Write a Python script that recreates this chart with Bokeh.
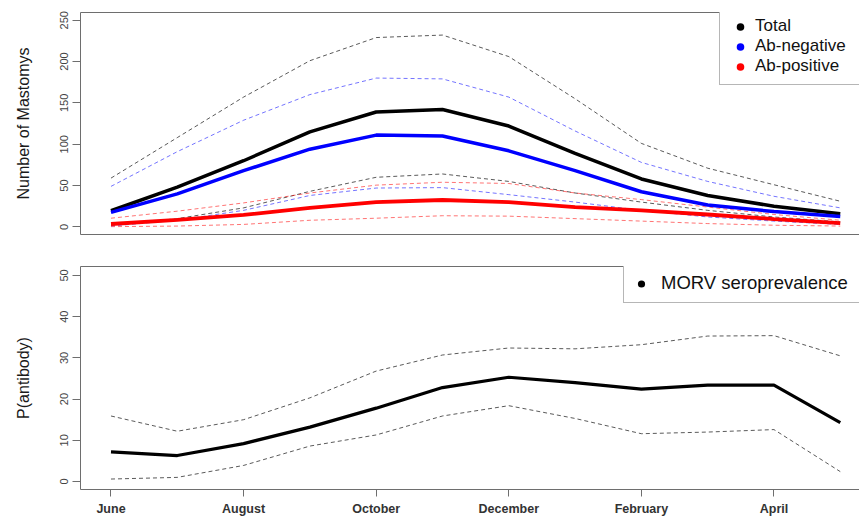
from bokeh.plotting import figure
from bokeh.layouts import column
from bokeh.models import Range1d, FixedTicker, LinearAxis, Legend, LegendItem
from bokeh.embed import file_html
from bokeh.resources import INLINE

# Monthly series, June through May
months = ["June", "July", "August", "September", "October", "November",
          "December", "January", "February", "March", "April", "May"]
month_idx = list(range(len(months)))
tick_positions = [0, 2, 4, 6, 8, 10]
tick_labels = ["June", "August", "October", "December", "February", "April"]

# Number of Mastomys: estimate with lower / upper bounds
total = [19.5, 48, 80, 115, 139, 142, 122, 89, 58, 38, 25, 16]
total_hi = [59, 108, 157, 201, 229, 232, 206, 155, 101, 71, 51, 31]
total_lo = [2, 10, 23, 43, 60, 64, 55, 41, 30, 20, 12, 6]

ab_neg = [17.5, 40, 68, 94, 111, 110, 92, 68, 42.5, 26.5, 18.5, 12.5]
ab_neg_hi = [49, 91, 129, 160, 180, 179, 157, 116, 78, 55, 37, 23]
ab_neg_lo = [1, 8, 20, 38, 47, 47.5, 39, 30, 20, 12, 7, 3]

ab_pos = [3.5, 8.5, 14.5, 23, 30, 32.5, 30, 24, 20, 15, 9.5, 4.5]
ab_pos_hi = [10.5, 19, 29, 41, 50.5, 54, 52.5, 41, 33, 24, 15, 8]
ab_pos_lo = [0.3, 1, 3, 8, 10.5, 13.5, 13, 10, 7, 4, 2, 1]

# Seroprevalence (%) with lower / upper bounds
sero = [7.2, 6.3, 9.2, 13.2, 17.8, 22.8, 25.3, 24.0, 22.4, 23.4, 23.4, 14.3]
sero_hi = [15.9, 12.2, 15.0, 20.3, 26.8, 30.7, 32.4, 32.2, 33.2, 35.3, 35.4, 30.5]
sero_lo = [0.6, 1.0, 3.9, 8.6, 11.3, 15.9, 18.4, 15.3, 11.6, 12.0, 12.6, 2.4]

FONT = "Liberation Sans"
FRAME = "#6e6e6e"
LABEL = "#444444"
X_START, X_END = -0.46, 11.29


def bare_axis(p, side):
    ax = LinearAxis(ticker=FixedTicker(ticks=[]), axis_line_color=FRAME,
                    axis_line_width=1, major_tick_out=0, major_tick_in=0,
                    minor_tick_out=0, minor_tick_in=0, major_label_standoff=0,
                    major_label_text_font_size="0px")
    p.add_layout(ax, side)


def style_left(p, ticks, title, standoff):
    ax = p.left[0]
    ax.ticker = FixedTicker(ticks=ticks)
    ax.axis_label = title
    ax.axis_label_text_font = FONT
    ax.axis_label_text_font_size = "16px"
    ax.axis_label_text_font_style = "normal"
    ax.axis_label_text_color = "#1a1a1a"
    ax.axis_label_standoff = standoff
    ax.major_label_orientation = "parallel"
    ax.major_label_text_font = FONT
    ax.major_label_text_font_size = "11px"
    ax.major_label_text_color = LABEL
    ax.major_label_standoff = 4
    ax.major_tick_out = 8
    ax.major_tick_in = 0
    ax.minor_tick_line_color = None
    ax.major_tick_line_color = FRAME
    ax.axis_line_color = FRAME


def base_figure(height, y0, y1, top, bottom):
    p = figure(width=859, height=height, output_backend="svg",
               toolbar_location=None, x_range=Range1d(X_START, X_END),
               y_range=Range1d(y0, y1), min_border_left=80,
               min_border_right=0, min_border_top=top,
               min_border_bottom=bottom, outline_line_color=None,
               background_fill_color="white", border_fill_color="white")
    p.grid.visible = False
    return p


DASH = "4 3"

# ---- Upper panel: population counts ----
p1 = base_figure(250, -9.2, 259.3, 12, 16)
p1.xaxis.visible = False
bare_axis(p1, "above")
bare_axis(p1, "below")
style_left(p1, [0, 50, 100, 150, 200, 250], "Number of Mastomys", 26)

for lo, hi, col, alpha in [(total_lo, total_hi, "black", 0.65),
                           (ab_neg_lo, ab_neg_hi, "blue", 0.55),
                           (ab_pos_lo, ab_pos_hi, "red", 0.55)]:
    p1.line(month_idx, hi, line_color=col, line_alpha=alpha, line_width=1,
            line_dash=DASH)
    p1.line(month_idx, lo, line_color=col, line_alpha=alpha, line_width=1,
            line_dash=DASH)

p1.line(month_idx, total, line_color="black", line_width=3.5)
p1.line(month_idx, ab_neg, line_color="blue", line_width=3.5)
p1.line(month_idx, ab_pos, line_color="red", line_width=3.8)

# zero-size point sets: they only supply the dot shown in the legend
k_tot = p1.scatter(month_idx, total, size=0, fill_color="black", line_color=None)
k_neg = p1.scatter(month_idx, ab_neg, size=0, fill_color="blue", line_color=None)
k_pos = p1.scatter(month_idx, ab_pos, size=0, fill_color="red", line_color=None)

# the legend box runs past the right edge of the canvas
leg1 = Legend(items=[LegendItem(label="Total", renderers=[k_tot]),
                     LegendItem(label="Ab-negative", renderers=[k_neg]),
                     LegendItem(label="Ab-positive", renderers=[k_pos])],
              location=(639, 149), margin=0, padding=8, spacing=0,
              glyph_width=24, glyph_height=19, label_height=16,
              label_width=118, label_standoff=3, label_text_font=FONT,
              label_text_font_size="17px", label_text_color="#111111",
              border_line_color=FRAME, border_line_width=1,
              background_fill_color="white", background_fill_alpha=1)
p1.add_layout(leg1)

# ---- Lower panel: seroprevalence ----
p2 = base_figure(268, -1.94, 52.18, 16, 29)
style_left(p2, [0, 10, 20, 30, 40, 50], "P(antibody)", 26)

xa = p2.below[0]
xa.ticker = FixedTicker(ticks=tick_positions)
xa.major_label_overrides = {t: lab for t, lab in zip(tick_positions, tick_labels)}
xa.major_label_text_font = FONT
xa.major_label_text_font_size = "12.5px"
xa.major_label_text_font_style = "bold"
xa.major_label_text_color = "#333333"
xa.major_label_standoff = 5
xa.major_tick_out = 7
xa.major_tick_in = 0
xa.minor_tick_line_color = None
xa.major_tick_line_color = FRAME
xa.axis_line_color = FRAME
bare_axis(p2, "above")

p2.line(month_idx, sero_hi, line_color="black", line_alpha=0.65,
        line_width=1, line_dash=DASH)
p2.line(month_idx, sero_lo, line_color="black", line_alpha=0.65,
        line_width=1, line_dash=DASH)
p2.line(month_idx, sero, line_color="black", line_width=3.2)
k_sero = p2.scatter(month_idx, sero, size=0, fill_color="black", line_color=None)

leg2 = Legend(items=[LegendItem(label="MORV seroprevalence", renderers=[k_sero])],
              location=(543, 186), margin=0, padding=8, spacing=0,
              glyph_width=18, glyph_height=19, label_height=18,
              label_width=215, label_standoff=11, label_text_font=FONT,
              label_text_font_size="18.5px", label_text_color="#111111",
              border_line_color=FRAME, border_line_width=1,
              background_fill_color="white", background_fill_alpha=1)
p2.add_layout(leg2)

layout = column(p1, p2, spacing=0)
open("out.html", "w").write(file_html(layout, INLINE))
